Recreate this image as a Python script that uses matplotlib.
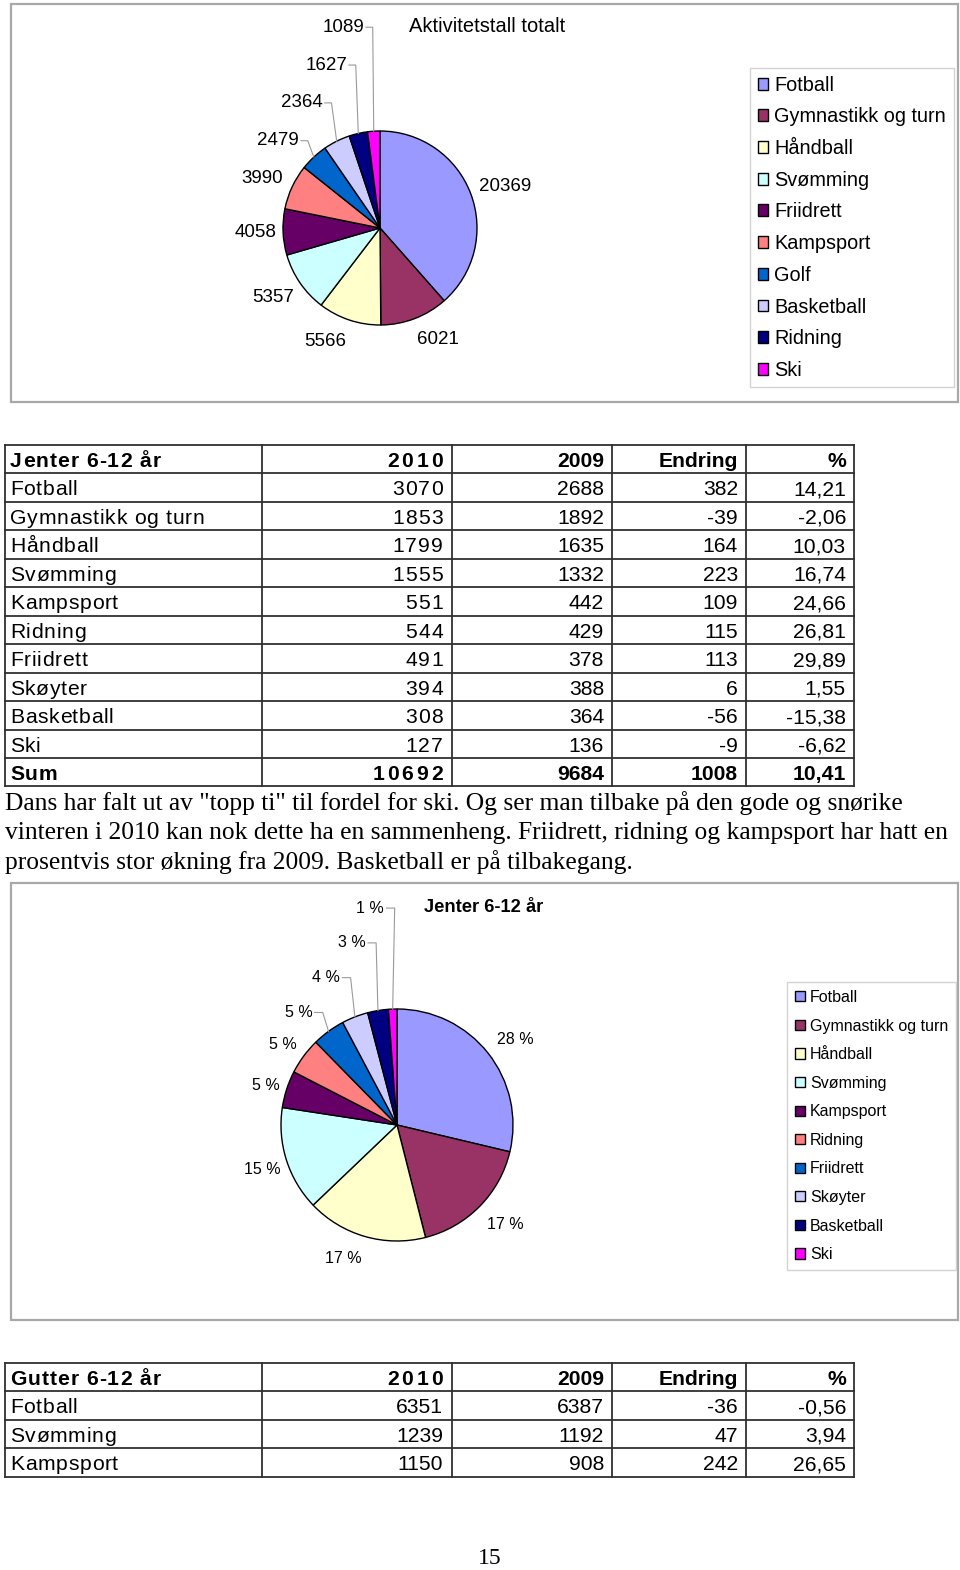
import matplotlib
matplotlib.use("Agg")
import matplotlib.pyplot as plt
from matplotlib.patches import Rectangle
from matplotlib.lines import Line2D
from matplotlib.font_manager import FontProperties
import numpy as np

plt.rcParams['font.family'] = ['Liberation Sans', 'DejaVu Sans']

W, H = 960, 1570

# ------------------------------------------------------------------ data
total_title = 'Aktivitetstall totalt'
total_categories = ['Fotball', 'Gymnastikk og turn', 'Håndball', 'Svømming', 'Friidrett',
                    'Kampsport', 'Golf', 'Basketball', 'Ridning', 'Ski']
total_values = [20369, 6021, 5566, 5357, 4058, 3990, 2479, 2364, 1627, 1089]

girls_title = 'Jenter 6-12 år'
girls_categories = ['Fotball', 'Gymnastikk og turn', 'Håndball', 'Svømming', 'Kampsport',
                    'Ridning', 'Friidrett', 'Skøyter', 'Basketball', 'Ski']
girls_2010 = [3070, 1853, 1799, 1555, 551, 544, 491, 394, 308, 127]
girls_2009 = [2688, 1892, 1635, 1332, 442, 429, 378, 388, 364, 136]
girls_change = [382, -39, 164, 223, 109, 115, 113, 6, -56, -9]
girls_pct = ['14,21', '-2,06', '10,03', '16,74', '24,66', '26,81', '29,89', '1,55', '-15,38', '-6,62']
girls_sum = ['Sum', '10692', '9684', '1008', '10,41']
girls_pie_labels = ['28 %', '17 %', '17 %', '15 %', '5 %', '5 %', '5 %', '4 %', '3 %', '1 %']

boys_title = 'Gutter 6-12 år'
boys_categories = ['Fotball', 'Svømming', 'Kampsport']
boys_2010 = [6351, 1239, 1150]
boys_2009 = [6387, 1192, 908]
boys_change = [-36, 47, 242]
boys_pct = ['-0,56', '3,94', '26,65']

table_header = ['2010', '2009', 'Endring', '%']

paragraph = [
    'Dans har falt ut av "topp ti" til fordel for ski. Og ser man tilbake på den gode og snørike',
    'vinteren i 2010 kan nok dette ha en sammenheng. Friidrett, ridning og kampsport har hatt en',
    'prosentvis stor økning fra 2009. Basketball er på tilbakegang.',
]
page_number = '15'

# ------------------------------------------------------------------ styles
total_colors = ['#9999FF', '#993366', '#FFFFCC', '#CCFFFF', '#660066',
                '#FF8080', '#0066CC', '#CCCCFF', '#000080', '#FF00FF']
girls_colors = ['#9999FF', '#993366', '#FFFFCC', '#CCFFFF', '#660066',
                '#FF8080', '#0066CC', '#CCCCFF', '#000080', '#FF00FF']

# label layout (units of pie radius); leader=True -> right aligned with leader line
total_label_layout = [(1.29, 0.43, False), (0.60, -1.15, False), (-0.57, -1.17, False),
                      (-1.10, -0.72, False), (-1.28, -0.05, False), (-1.21, 0.51, False),
                      (-0.835, 0.90, True), (-0.59, 1.29, True), (-0.34, 1.68, True),
                      (-0.165, 2.07, True)]
girls_label_layout = [(1.02, 0.74, False), (0.93, -0.86, False), (-0.46, -1.15, False),
                      (-1.16, -0.38, False), (-1.13, 0.34, False), (-0.98, 0.69, False),
                      (-0.73, 0.97, True), (-0.49, 1.27, True), (-0.27, 1.57, True),
                      (-0.11, 1.87, True)]

fig = plt.figure(figsize=(W / 100, H / 100), dpi=100)
fig.patch.set_facecolor('white')
renderer = fig.canvas.get_renderer()


def fx(x):
    return x / W


def fy(y):
    return 1 - y / H


def ax_px(x0, y0, w, h):
    return fig.add_axes([x0 / W, 1 - (y0 + h) / H, w / W, h / H])


def chart_box(x0, y0, x1, y1):
    fig.patches.append(Rectangle((fx(x0), fy(y1)), (x1 - x0) / W, (y1 - y0) / H,
                                 transform=fig.transFigure, fill=False,
                                 edgecolor='#a8a8a8', lw=1.6))


def draw_pie(cx, cy, r, values, colors, labels, layout, fs):
    ax = ax_px(cx - r, cy - r, 2 * r, 2 * r)
    wedges, _ = ax.pie(values, colors=colors, startangle=90, counterclock=False,
                       radius=1, wedgeprops=dict(edgecolor='black', linewidth=1.0))
    ax.set_xlim(-1, 1)
    ax.set_ylim(-1, 1)
    ax.set_aspect('equal')
    ax.axis('off')
    for w, lab, (lx, ly, leader) in zip(wedges, labels, layout):
        if leader:
            ax.text(lx, ly, lab, ha='right', va='center', fontsize=fs, clip_on=False)
            mid = np.deg2rad((w.theta1 + w.theta2) / 2)
            ex, ey = np.cos(mid), np.sin(mid)
            hx = lx + 0.02 + 0.07
            ax.add_line(Line2D([lx + 0.02, hx, ex], [ly, ly, ey], color='#9a9a9a',
                               lw=0.8, clip_on=False))
        else:
            ax.text(lx, ly, lab, ha='center', va='center', fontsize=fs, clip_on=False)
    return ax, wedges


# ------------------------------------------------------------------ chart 1
chart_box(11, 4, 958, 402)
ax1, w1 = draw_pie(380, 228, 97, total_values, total_colors,
                   [str(v) for v in total_values], total_label_layout, 13.5)
fig.text(fx(487), fy(27), total_title, ha='center', va='center', fontsize=14.5)
leg1 = fig.legend(w1, total_categories, loc='upper left',
                  bbox_to_anchor=(fx(750), fy(68)), bbox_transform=fig.transFigure,
                  frameon=True, fancybox=False, edgecolor='#c8c8c8', fontsize=14.3,
                  handlelength=0.55, handleheight=0.55, handletextpad=0.3,
                  labelspacing=0.64, borderpad=0.38, borderaxespad=0)
leg1.get_frame().set_linewidth(1.0)

# ------------------------------------------------------------------ table helper
TFS = 15.2


def twidth(s, fp):
    w, h, d = renderer.get_text_width_height_descent(s, fp, ismath=False)
    return w


def spaced_text(ax, x, y, s, ha, spacing, bold):
    fp = FontProperties(family=plt.rcParams['font.family'], size=TFS,
                        weight='bold' if bold else 'normal')
    if spacing == 0:
        ax.text(x, y, s, ha=ha, va='baseline', fontproperties=fp)
        return
    ref = twidth('|', fp)
    total = twidth(s, fp) + spacing * (len(s) - 1)
    start = x if ha == 'left' else x - total
    for i, ch in enumerate(s):
        if ch == ' ':
            continue
        off = (twidth(s[:i] + '|', fp) - ref) if i > 0 else 0
        ax.text(start + off + i * spacing, y, ch, ha='left', va='baseline',
                fontproperties=fp)


def draw_table(y0, header_title, rows, sum_row=None, col1_spacing=1.0):
    col_x = [5, 262, 452, 612, 746, 854]
    row_h = 28.45
    n = 1 + len(rows) + (1 if sum_row else 0)
    y1 = y0 + n * row_h
    ax = ax_px(0, y0 - 2, W, n * row_h + 4)
    ax.set_xlim(0, W)
    ax.set_ylim(y1 + 2, y0 - 2)
    ax.axis('off')
    for i in range(n + 1):
        ax.plot([col_x[0], col_x[-1]], [y0 + i * row_h] * 2, color='#303030', lw=1.3,
                solid_capstyle='projecting')
    for x in col_x:
        ax.plot([x, x], [y0, y1], color='#303030', lw=1.3, solid_capstyle='projecting')
    all_rows = [[header_title] + table_header] + rows + ([sum_row] if sum_row else [])
    for r_i, row in enumerate(all_rows):
        bold = (r_i == 0) or (sum_row is not None and r_i == n - 1)
        yb = y0 + (r_i + 0.5) * row_h + 7.8
        for c_i, txt in enumerate(row):
            if c_i == 0:
                spaced_text(ax, col_x[0] + 5, yb, txt, 'left', 1.0 if bold else 0.7, bold)
            elif c_i == 1:
                sp = 3.0 if bold else col1_spacing
                spaced_text(ax, col_x[2] - 9, yb, txt, 'right', sp, bold)
            else:
                spaced_text(ax, col_x[c_i + 1] - 8, yb, txt, 'right', 0, bold)


girls_rows = [[c, str(a), str(b), str(d), p] for c, a, b, d, p in
              zip(girls_categories, girls_2010, girls_2009, girls_change, girls_pct)]
draw_table(445, girls_title, girls_rows, girls_sum, col1_spacing=1.3)

# ------------------------------------------------------------------ paragraph
for i, line in enumerate(paragraph):
    fig.text(fx(5), fy(803 + i * 29.7), line, ha='left', va='center', fontsize=18.4,
             family='Liberation Serif')

# ------------------------------------------------------------------ chart 2
chart_box(11, 883, 958, 1320)
ax2, w2 = draw_pie(397, 1125, 116, girls_2010, girls_colors, girls_pie_labels,
                   girls_label_layout, 11.5)
fig.text(fx(484), fy(907), girls_title, ha='center', va='center', fontsize=13.2,
         fontweight='bold')
leg2 = fig.legend(w2, girls_categories, loc='upper left',
                  bbox_to_anchor=(fx(787), fy(982)), bbox_transform=fig.transFigure,
                  frameon=True, fancybox=False, edgecolor='#c8c8c8', fontsize=11.5,
                  handlelength=0.6, handleheight=0.6, handletextpad=0.35,
                  labelspacing=0.85, borderpad=0.5, borderaxespad=0)
leg2.get_frame().set_linewidth(1.0)

# ------------------------------------------------------------------ table 2
boys_rows = [[c, str(a), str(b), str(d), p] for c, a, b, d, p in
             zip(boys_categories, boys_2010, boys_2009, boys_change, boys_pct)]
draw_table(1363, boys_title, boys_rows, col1_spacing=0)

fig.text(fx(490), fy(1559), page_number, ha='center', va='center', fontsize=17,
         family='Liberation Serif')

fig.savefig('out.png', dpi=100, facecolor='white')
